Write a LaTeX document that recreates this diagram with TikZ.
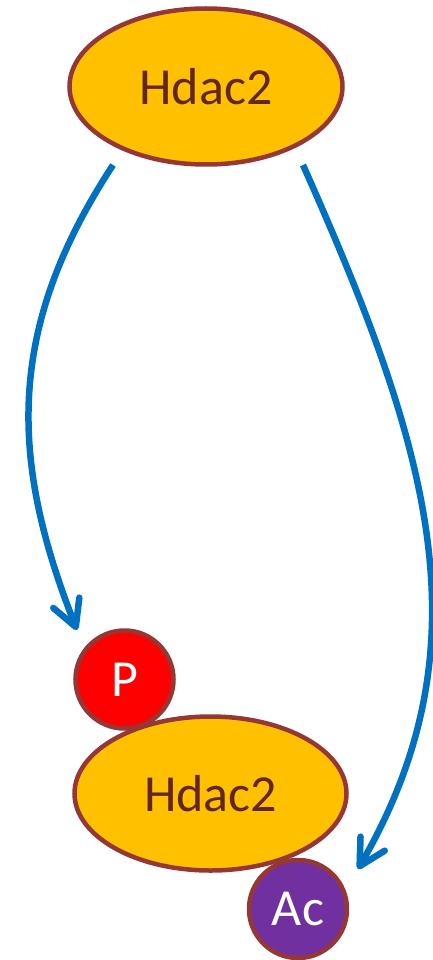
\documentclass[tikz,border=0pt]{standalone}
\usepackage{fontspec}
\setmainfont{Carlito}
\usetikzlibrary{shapes.geometric,arrows.meta,calc}
\definecolor{hdacfill}{HTML}{FFC000}
\definecolor{rim}{HTML}{953735}
\definecolor{hdactext}{HTML}{632523}
\definecolor{phosred}{HTML}{FF0000}
\definecolor{acetpurple}{HTML}{7030A0}
\definecolor{arrowblue}{HTML}{0070C0}
\begin{document}
\begin{tikzpicture}[x=1pt,y=-1pt,
  protein/.style={ellipse, draw=rim, line width=4.5pt, fill=hdacfill,
    inner sep=0pt, text=hdactext, font=\fontsize{52}{52}\selectfont},
  modbead/.style={circle, draw=rim, line width=4.5pt, inner sep=0pt,
    minimum size=98pt, text=white, font=\fontsize{52}{52}\selectfont},
  edgearrow/.style={draw=arrowblue, line width=6.5pt,
    -{Straight Barb[length=26pt, width=28pt, round]}}]
  \useasboundingbox (0,0) rectangle (432,960);

  % upper (free) Hdac2
  \node[protein, minimum width=273pt, minimum height=156pt] (top) at (206,86.5) {Hdac2};

  % modified Hdac2 with its phosphate and acetyl groups
  \node[modbead, fill=phosred] (P) at (124.5,679.5) {P};
  \node[protein, minimum width=272pt, minimum height=154pt] (bottom) at (210.5,793.5) {Hdac2};
  \node[modbead, fill=acetpurple] (Ac) at (298,909) {Ac};

  % connector end points
  \coordinate (ls) at ($(top.center)+(-93,78.5)$);
  \coordinate (le) at ($(P.center)+(-47.5,-49.5)$);
  \coordinate (rs) at ($(top.center)+(97,78.5)$);
  \coordinate (re) at ($(Ac.center)+(60,-40)$);

  \draw[edgearrow] (ls) .. controls +(-108,165) and +(-67,-170) .. (le);
  \draw[edgearrow] (rs) .. controls +(127,285) and +(130,-225) .. (re);
\end{tikzpicture}
\end{document}
